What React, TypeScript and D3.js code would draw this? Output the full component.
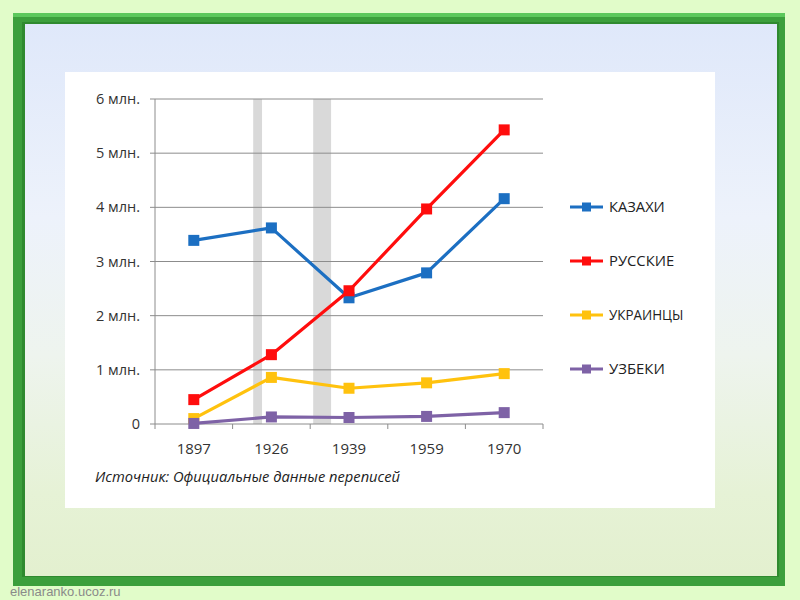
import React from "react";
import * as d3 from "d3";

const years = ["1897", "1926", "1939", "1959", "1970"];
const kazakhs = [3.39, 3.62, 2.33, 2.79, 4.16];
const russians = [0.45, 1.28, 2.46, 3.97, 5.43];
const ukrainians = [0.1, 0.86, 0.66, 0.76, 0.93];
const uzbeks = [0.01, 0.13, 0.12, 0.14, 0.21];
const yTicks = [0, 1, 2, 3, 4, 5, 6];
const yTickLabels = ["0", "1 млн.", "2 млн.", "3 млн.", "4 млн.", "5 млн.", "6 млн."];
// shaded periods (years), placed on the census axis by interpolation
const shaded = [[1919.2, 1922.5], [1933, 1936]];

const series = [
  { name: "КАЗАХИ", values: kazakhs, color: "#1c6fc2" },
  { name: "РУССКИЕ", values: russians, color: "#ff0d0d" },
  { name: "УКРАИНЦЫ", values: ukrainians, color: "#ffc20e" },
  { name: "УЗБЕКИ", values: uzbeks, color: "#7e62a6" },
];

export default function App() {
  const W = 800, H = 600;
  const plot = { left: 155, right: 543, top: 99, bottom: 424 };

  const x = d3.scaleBand<string>().domain(years).range([plot.left, plot.right]);
  const cx = (y: string) => (x(y) || 0) + x.bandwidth() / 2;
  const yearPos = d3.scaleLinear().domain(years.map(Number)).range(years.map(cx));
  const y = d3.scaleLinear().domain([0, 6]).range([plot.bottom, plot.top]);

  const line = d3.line<number>().x((_, i) => cx(years[i])).y(d => y(d));

  const legendY = d3.scalePoint<string>().domain(series.map(s => s.name)).range([207, 369]);
  const font = "'Open Sans', 'DejaVu Sans', sans-serif";
  const ms = 11;

  return (
    <svg width={W} height={H} style={{ position: "absolute", left: 0, top: 0, display: "block" }}>
      <defs>
        <linearGradient id="bg" x1="0" y1="0" x2="0" y2="1">
          <stop offset="0" stopColor="#dfe8fa" />
          <stop offset="0.35" stopColor="#edf2fb" />
          <stop offset="0.6" stopColor="#eef4ee" />
          <stop offset="0.85" stopColor="#e6f2d6" />
          <stop offset="1" stopColor="#e3f0cf" />
        </linearGradient>
      </defs>
      <rect width={W} height={H} fill="#e1fcc9" />
      {/* frame */}
      <rect x={13} y={13} width={772} height={573} fill="#3c9f3c" />
      <rect x={13} y={13} width={772} height={4} fill="#5cc85c" />
      <rect x={22} y={22} width={757} height={555} fill="#2f8a2f" />
      <rect x={25} y={24} width={752} height={552} fill="url(#bg)" />

      {/* white chart panel */}
      <rect x={65} y={72} width={650} height={436} fill="#ffffff" />

      {/* shaded periods */}
      {shaded.map(([a, b], i) => (
        <rect key={i} x={yearPos(a)} y={plot.top} width={yearPos(b) - yearPos(a)}
          height={plot.bottom - plot.top} fill="#d9d9d9" />
      ))}

      {/* grid + y ticks */}
      {yTicks.map((t, i) => (
        <g key={t}>
          <line x1={plot.left - 5} x2={plot.right} y1={y(t)} y2={y(t)} stroke="#8c8c8c" strokeWidth={1} />
          <text x={140} y={y(t)} dy="0.35em" textAnchor="end" fontFamily={font} fontSize={14.5} fill="#333">
            {yTickLabels[i]}
          </text>
        </g>
      ))}
      <line x1={plot.left} x2={plot.left} y1={plot.top} y2={plot.bottom} stroke="#8c8c8c" />

      {/* x axis */}
      {[...years.map(yr => x(yr) || 0), plot.right].map((v, i) => (
        <line key={i} x1={v} x2={v} y1={plot.bottom} y2={plot.bottom + 5} stroke="#8c8c8c" />
      ))}
      {years.map(yr => (
        <text key={yr} x={cx(yr)} y={449} dy="0.35em" textAnchor="middle" fontFamily={font} fontSize={15} fill="#333">
          {yr}
        </text>
      ))}

      {/* series */}
      {series.map(s => (
        <g key={s.name}>
          <path d={line(s.values) || ""} fill="none" stroke={s.color} strokeWidth={3.2} strokeLinejoin="round" />
          {s.values.map((v, i) => (
            <rect key={i} x={cx(years[i]) - ms / 2} y={y(v) - ms / 2} width={ms} height={ms} fill={s.color} />
          ))}
        </g>
      ))}

      {/* legend */}
      {series.map(s => {
        const ly = legendY(s.name) || 0;
        return (
          <g key={s.name}>
            <line x1={570} x2={603} y1={ly} y2={ly} stroke={s.color} strokeWidth={3} />
            <rect x={582} y={ly - 4.5} width={9} height={9} fill={s.color} />
            <text x={609} y={ly} dy="0.35em" fontFamily={font} fontSize={14.5} fill="#222" textLength={s.name.length * 9.3} lengthAdjust="spacingAndGlyphs">{s.name}</text>
          </g>
        );
      })}

      <text x={95} y={477} dy="0.35em" fontFamily={font} fontStyle="italic" fontSize={14} fill="#222"
        textLength={305} lengthAdjust="spacingAndGlyphs">
        Источник: Официальные данные переписей
      </text>

      <text x={10} y={591} dy="0.35em" fontFamily="'Liberation Sans', Arial, sans-serif" fontSize={13} fill="#8a8a8a">
        elenaranko.ucoz.ru
      </text>
    </svg>
  );
}
